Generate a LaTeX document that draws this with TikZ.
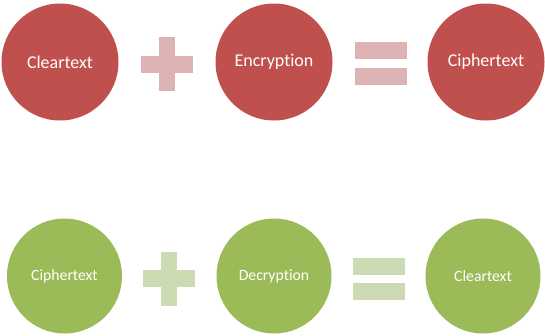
\documentclass[tikz,border=0pt]{standalone}
\usepackage{fontspec}
\setmainfont[Ligatures={NoCommon,NoRare,NoContextual}]{Carlito}
\usetikzlibrary{positioning, calc}

\definecolor{encred}{HTML}{C0504D}
\definecolor{encpale}{HTML}{DCB3B2}
\definecolor{decgreen}{HTML}{9BBB59}
\definecolor{decpale}{HTML}{CDDBB5}

\begin{document}
\begin{tikzpicture}[
  x=1pt, y=-1pt,
  encstep/.style = {circle, fill=encred, text=white, minimum size=117pt, inner sep=0pt, font=\fontsize{18}{21}\selectfont},
  decstep/.style = {circle, fill=decgreen, text=white, minimum size=115pt, inner sep=0pt, font=\fontsize{15.7}{18}\selectfont},
  bar/.style = {rectangle, inner sep=0pt, minimum width=52pt, minimum height=17pt},
  stem/.style = {rectangle, inner sep=0pt, minimum width=16pt, minimum height=54pt}
]
\useasboundingbox (0,0) rectangle (545,335);

%--------------------------------------------------
% Encryption row
%--------------------------------------------------
\node[encstep] (e_clear) at (60,62) {Cleartext};
\node[encstep] (e_algo) at (274,62) {Encryption};
\node[encstep] (e_cipher) at (486,62) {Ciphertext};

% plus sign
\node[bar, fill=encpale] (e_plus_h) at (167,64) {};
\node[stem, fill=encpale] (e_plus_v) at (e_plus_h) {};

% equals sign
\node[bar, fill=encpale] (e_eq_top) at (380.5,50.5) {};
\node[bar, fill=encpale, below=9pt of e_eq_top] (e_eq_bot) {};

%--------------------------------------------------
% Decryption row
%--------------------------------------------------
\node[decstep] (d_cipher) at (64.5,276) {Ciphertext};
\node[decstep] (d_algo) at (274,276) {Decryption};
\node[decstep] (d_clear) at (483,276) {Cleartext};

% plus sign
\node[bar, fill=decpale] (d_plus_h) at (169,278.5) {};
\node[stem, fill=decpale] (d_plus_v) at (d_plus_h) {};

% equals sign
\node[bar, fill=decpale] (d_eq_top) at (379,266) {};
\node[bar, fill=decpale, below=8pt of d_eq_top] (d_eq_bot) {};

\end{tikzpicture}
\end{document}
